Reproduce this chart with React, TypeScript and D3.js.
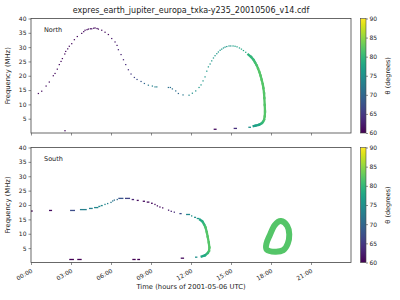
import * as d3 from "d3";
import { useEffect, useRef } from "react";

const titleText = "expres_earth_jupiter_europa_txka-y235_20010506_v14.cdf";
const hourTicks = [0, 3, 6, 9, 12, 15, 18, 21];
const freqTicks = [5, 10, 15, 20, 25, 30, 35, 40];
const thetaTicks = [60, 65, 70, 75, 80, 85, 90];

// North: [hour, MHz, theta]
const northDots = [
  [0.55, 13.8, 61], [0.8, 14.6, 61], [1.13, 16.4, 61], [1.37, 17.8, 61], [1.67, 20, 61],
  [1.8, 20.8, 61], [1.97, 22.3, 61], [2.12, 23.9, 61], [2.25, 25, 61], [2.35, 26, 61],
  [2.53, 27.6, 61], [2.6, 28.5, 61], [2.75, 29.4, 61], [2.87, 30.3, 61], [3.05, 31.2, 61],
  [3.25, 32.6, 61], [3.47, 33.7, 61], [3.8, 34.8, 61], [3.95, 35.4, 61], [4.05, 35.9, 61],
  [4.2, 36.1, 61], [4.3, 36.3, 61], [4.45, 36.4, 61], [4.55, 36.4, 61], [4.7, 36.6, 61],
  [4.8, 36.7, 61], [4.95, 36.5, 61], [5.05, 36.3, 61], [5.3, 35.9, 61], [5.55, 35.2, 61],
  [5.8, 34.4, 61], [6.05, 33, 62], [6.3, 31.8, 62], [6.45, 30.6, 62], [6.55, 29.1, 63],
  [6.75, 27.4, 63], [6.93, 25.6, 63], [7.1, 23.9, 64], [7.3, 22.1, 64], [7.5, 20.6, 65],
  [7.75, 19.4, 66], [7.95, 18.7, 67], [8.25, 18, 68], [8.5, 17.3, 70], [8.8, 16.7, 72],
  [9.1, 16.4, 73], [9.3, 16.1, 73], [9.43, 16.1, 73], [10.3, 15.9, 71], [10.45, 15.9, 71],
  [10.6, 15.4, 71], [10.85, 14.7, 71], [11.05, 13.8, 70], [11.4, 13.3, 72], [11.85, 13.2, 74],
  [12.1, 13.9, 75], [12.35, 14.7, 75], [12.6, 15.9, 76], [12.75, 16.8, 76], [12.9, 18.2, 76],
  [13.05, 19.6, 76], [13.18, 21.6, 76], [13.3, 23.1, 76], [13.43, 24.1, 76], [13.55, 25.2, 76],
  [13.68, 26.2, 76], [13.8, 27, 76], [13.93, 27.7, 76], [14.05, 28.3, 76], [14.18, 28.9, 76],
  [14.3, 29.3, 76], [14.43, 29.7, 76], [14.55, 30, 76], [14.68, 30.2, 76], [14.85, 30.4, 76],
  [14.98, 30.4, 76], [15.15, 30.4, 77], [15.3, 30.3, 77], [15.45, 30.1, 77], [15.63, 29.7, 77],
  [15.78, 29.3, 78], [15.93, 28.8, 78], [16.1, 28.2, 78],
];
const northArc = [
  [16.3, 27.4, 79], [16.5, 26.6, 80], [16.68, 25.6, 80], [16.8, 24.7, 81], [16.93, 23.6, 81],
  [17.03, 22.5, 82], [17.13, 21.3, 82], [17.22, 20, 82], [17.3, 18.6, 82], [17.38, 17.1, 82],
  [17.43, 15.7, 82], [17.48, 13.9, 82], [17.5, 12.2, 82], [17.53, 9.8, 82], [17.55, 7.5, 82],
  [17.53, 5.8, 82], [17.48, 4.6, 82], [17.4, 3.9, 81], [17.3, 3.4, 80], [17.15, 3.0, 79],
  [17.05, 2.8, 78], [16.85, 2.6, 77], [16.7, 2.4, 77],
];
// [hour start, hour end, MHz, theta]
const northDashes = [
  [2.5, 2.58, 0.8, 61], [13.7, 13.92, 1.3, 61], [15.2, 15.45, 1.6, 64], [16.3, 16.5, 2.0, 75],
];

const southDashes = [
  [0, 0.13, 17.9, 60], [1.35, 1.58, 18.1, 61], [2.93, 3.3, 18.1, 67], [3.67, 4.18, 18.4, 73],
  [4.35, 4.63, 18.8, 73], [4.73, 5.05, 19.1, 74], [5.05, 5.2, 19.5, 74], [5.23, 5.38, 19.8, 74],
  [5.5, 5.6, 20.2, 74], [5.7, 5.8, 20.5, 73], [5.95, 6.05, 20.9, 72], [6.08, 6.17, 21.4, 72],
  [6.2, 6.3, 21.7, 71], [6.42, 6.5, 21.9, 70], [6.55, 6.93, 22.3, 68], [7.05, 7.43, 22.3, 66],
  [7.55, 7.73, 21.9, 63], [7.93, 8.08, 21.6, 61], [8.38, 8.55, 21.3, 61], [8.68, 8.88, 21.0, 61],
  [9.0, 9.13, 20.6, 61], [9.25, 9.33, 20.2, 61], [9.43, 9.5, 19.7, 61], [9.62, 9.7, 19.3, 61],
  [9.83, 9.9, 19.0, 61], [10.27, 10.35, 18.2, 62], [10.47, 10.55, 17.8, 63], [10.7, 10.78, 17.5, 64],
  [11.13, 11.3, 17.0, 67], [11.63, 11.93, 16.7, 74], [12.0, 12.1, 16.2, 75], [12.23, 12.38, 15.7, 75],
  [12.43, 12.63, 15.3, 76],
  [2.87, 3.22, 1.05, 60], [3.47, 3.8, 1.05, 60], [7.6, 7.85, 1.05, 60], [7.97, 8.18, 1.05, 60],
  [11.23, 11.48, 1.5, 61], [12.3, 12.48, 1.85, 75],
];
const southArc = [
  [12.68, 14.9, 77], [12.85, 14.3, 78], [12.98, 13.3, 80], [13.08, 12.3, 81], [13.18, 10.6, 82],
  [13.25, 9.0, 82], [13.33, 7.0, 82], [13.38, 5.2, 82], [13.35, 4.0, 82], [13.25, 3.3, 81],
  [13.05, 2.5, 79], [12.8, 2.1, 77],
];
// [hour, MHz]
const southRing = [
  [18.75, 14.4], [19.22, 12.7], [19.37, 9.8], [19.26, 6.6], [18.92, 4.3],
  [18.3, 3.75], [17.68, 4.5], [17.66, 6.6], [17.9, 9.4], [18.28, 13.0],
];
const southRingTheta = 82;

const App = () => {
  const ref = useRef<HTMLDivElement>(null);
  const W = 400, H = 300;
  const left = 31, right = 351;

  useEffect(() => {
    const svg = d3.select(ref.current).append("svg")
      .attr("width", W).attr("height", H)
      .style("position", "absolute").style("left", 0).style("top", 0)
      .style("font-family", "DejaVu Sans");

    const color = d3.scaleSequential(d3.interpolateViridis).domain([60, 90]);
    const x = d3.scaleLinear().domain([0, 24]).range([left, right]);

    // gradient for colorbars
    const grad = svg.append("defs").append("linearGradient")
      .attr("id", "viridis").attr("x1", 0).attr("y1", 1).attr("x2", 0).attr("y2", 0);
    d3.range(0, 1.001, 0.05).forEach(t => {
      grad.append("stop").attr("offset", t).attr("stop-color", d3.interpolateViridis(t));
    });

    svg.append("text").attr("x", (left + right) / 2).attr("y", 12.5)
      .attr("text-anchor", "middle").attr("font-size", "8px").attr("fill", "#222")
      .text(titleText);

    const panels = [
      { name: "North", top: 18.5, bottom: 133, dots: northDots, arc: northArc, dashes: northDashes, ring: null as number[][] | null, labels: false },
      { name: "South", top: 147.5, bottom: 262.5, dots: [] as number[][], arc: southArc, dashes: southDashes, ring: southRing, labels: true },
    ];

    panels.forEach(p => {
      const y = d3.scaleLinear().domain([0, 40]).range([p.bottom, p.top]);
      const g = svg.append("g");

      // dashes (time bins)
      g.selectAll(".dash").data(p.dashes).join("rect")
        .attr("x", d => x(d[0]))
        .attr("y", d => y(d[2]) - 0.65)
        .attr("width", d => Math.max(1.3, x(d[1]) - x(d[0])))
        .attr("height", 1.3)
        .attr("fill", d => color(d[3]));

      // dots
      g.selectAll(".dot").data(p.dots).join("rect")
        .attr("x", d => x(d[0]) - 0.6)
        .attr("y", d => y(d[1]) - 0.6)
        .attr("width", 1.3).attr("height", 1.2)
        .attr("fill", d => color(d[2]));

      // steep thick part
      d3.pairs(p.arc).forEach(([a, b]) => {
        g.append("line")
          .attr("x1", x(a[0])).attr("y1", y(a[1]))
          .attr("x2", x(b[0])).attr("y2", y(b[1]))
          .attr("stroke", color((a[2] + b[2]) / 2))
          .attr("stroke-width", 2.3).attr("stroke-linecap", "square");
      });

      if (p.ring) {
        const ringLine = d3.line<number[]>().x(d => x(d[0])).y(d => y(d[1])).curve(d3.curveCardinalClosed);
        g.append("path").attr("d", ringLine(p.ring))
          .attr("fill", "none").attr("stroke", color(southRingTheta)).attr("stroke-width", 6);
      }

      // axes
      const yAxis = g.append("g").attr("transform", `translate(${left},0)`)
        .call(d3.axisLeft(y).tickValues(freqTicks).tickSize(2.5).tickPadding(2));
      yAxis.select(".domain").remove();
      yAxis.selectAll("text").attr("font-size", "6px").attr("font-family", "DejaVu Sans").attr("fill", "#222");
      yAxis.selectAll("line").attr("stroke", "#444").attr("stroke-width", 0.6);

      const xAxis = g.append("g").attr("transform", `translate(0,${p.bottom})`)
        .call(d3.axisBottom(x).tickValues(hourTicks).tickSize(2.5)
          .tickFormat(d => (p.labels ? d3.format("02d")(+d) + ":00" : "")));
      xAxis.select(".domain").remove();
      xAxis.selectAll("line").attr("stroke", "#444").attr("stroke-width", 0.6);
      xAxis.selectAll("text")
        .attr("font-size", "6px").attr("font-family", "DejaVu Sans").attr("fill", "#222")
        .attr("text-anchor", "end")
        .attr("y", 0).attr("dy", "0")
        .attr("transform", "translate(1.5,9.5) rotate(-30)");

      g.append("rect").attr("x", left).attr("y", p.top)
        .attr("width", right - left).attr("height", p.bottom - p.top)
        .attr("fill", "none").attr("stroke", "#444").attr("stroke-width", 0.8);

      g.append("text").attr("x", 44).attr("y", p.top + 13)
        .attr("font-size", "6.5px").attr("fill", "#222").text(p.name);

      g.append("text")
        .attr("transform", `translate(10,${(p.top + p.bottom) / 2}) rotate(-90)`)
        .attr("text-anchor", "middle").attr("font-size", "6.8px").attr("fill", "#222")
        .text("Frequency (MHz)");

      // colorbar
      const cb = d3.scaleLinear().domain([60, 90]).range([p.bottom, p.top]);
      g.append("rect").attr("x", 360.5).attr("y", p.top)
        .attr("width", 5.5).attr("height", p.bottom - p.top)
        .attr("fill", "url(#viridis)").attr("stroke", "#444").attr("stroke-width", 0.6);
      const cbAxis = g.append("g").attr("transform", "translate(366,0)")
        .call(d3.axisRight(cb).tickValues(thetaTicks).tickSize(2).tickPadding(1.5));
      cbAxis.select(".domain").remove();
      cbAxis.selectAll("line").attr("stroke", "#444").attr("stroke-width", 0.6);
      cbAxis.selectAll("text").attr("font-size", "6px").attr("font-family", "DejaVu Sans").attr("fill", "#222");

      g.append("text")
        .attr("transform", `translate(389.5,${(p.top + p.bottom) / 2}) rotate(-90)`)
        .attr("text-anchor", "middle").attr("font-size", "6.5px").attr("fill", "#222")
        .text("θ (degrees)");
    });

    svg.append("text").attr("x", (left + right) / 2).attr("y", 289)
      .attr("text-anchor", "middle").attr("font-size", "6.8px").attr("fill", "#222")
      .text("Time (hours of 2001-05-06 UTC)");

    return () => {
      d3.select(ref.current).selectAll("svg").remove();
    };
  }, []);

  return <div ref={ref} style={{ width: W, height: H }} />;
};

export default App;
